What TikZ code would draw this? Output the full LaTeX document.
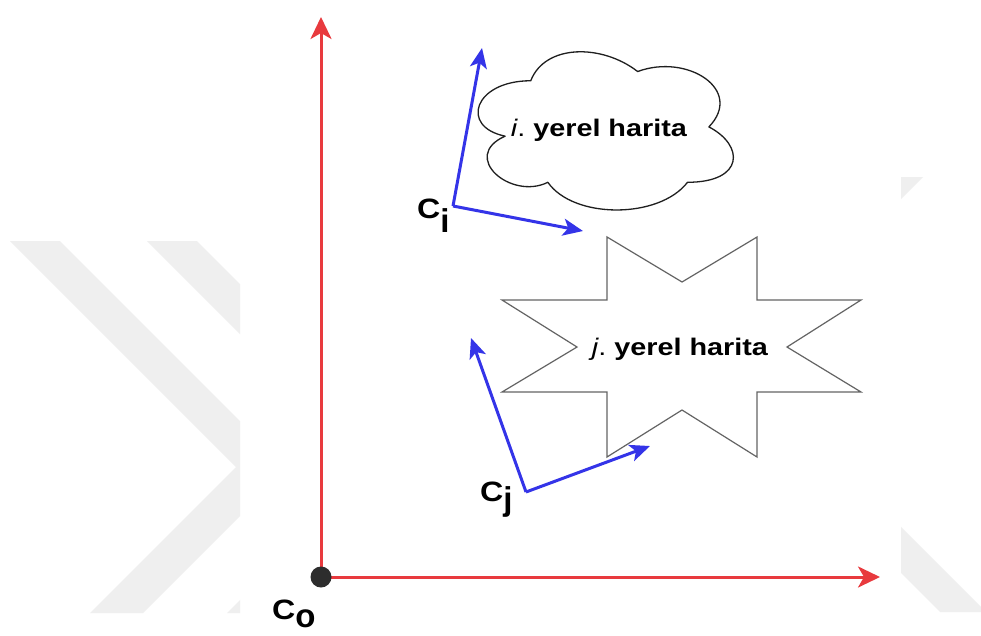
\documentclass[tikz,border=0pt]{standalone}
\usepackage{fontspec}
\setmainfont{Liberation Sans}
\usetikzlibrary{arrows.meta}
\definecolor{axisred}{RGB}{232,58,62}
\definecolor{vecblue}{RGB}{52,52,232}
\definecolor{wmgray}{RGB}{239,239,239}
\definecolor{stargray}{RGB}{100,100,100}
\definecolor{dotgray}{RGB}{45,45,45}
\tikzset{
  axis/.style={draw=axisred, line width=3pt, -{Stealth[length=22pt,width=21pt,inset=6pt]}},
  vec/.style={draw=vecblue, line width=3pt, -{Stealth[length=20pt,width=17pt,inset=5pt]}},
  maptext/.style={inner sep=0pt, anchor=base, font=\fontsize{24}{28}\selectfont},
  framelab/.style={inner sep=0pt, anchor=base west, font=\fontsize{28}{30}\selectfont\bfseries},
  cloudline/.style={draw=black!88, line width=1.3pt, line join=round},
  starline/.style={draw=stargray, line width=1.2pt, line join=miter},
}
\newcommand{\subfs}[1]{{\fontsize{33}{35}\selectfont #1}}
\begin{document}
\begin{tikzpicture}[x=1pt, y=-1pt]
\useasboundingbox (0,0) rectangle (981,635);
\fill[white] (0,0) rectangle (981,635);
% watermark (left)
\begin{scope}
  \clip (0,0) rectangle (240,635);
  \fill[wmgray] (10,241) -- (60,241) -- (287.5,468.5) -- (143,613) -- (90,613) -- (236,467) -- cycle;
  \fill[wmgray] (147,241) -- (197,241) -- (424.5,468.5) -- (280,613) -- (227,613) -- (373,467) -- cycle;
\end{scope}
% watermark (right)
\begin{scope}
  \clip (901,0) rectangle (981,635);
  \fill[wmgray] (873,177) -- (923,177) -- (737,363) -- (986,612) -- (940,612) -- (689,361) -- cycle;
\end{scope}

% cloud (i. local map)
\begin{scope}[shift={(459.5pt,-34.6pt)}, x=285pt, y=-184.6pt]
  \draw[cloudline, fill=white] (0.25,0.25)
    .. controls (0.05,0.25) and (0,0.5) .. (0.16,0.55)
    .. controls (0,0.66) and (0.18,0.9) .. (0.31,0.8)
    .. controls (0.4,1) and (0.7,1) .. (0.8,0.8)
    .. controls (1,0.8) and (1,0.6) .. (0.875,0.5)
    .. controls (1,0.3) and (0.8,0.1) .. (0.625,0.2)
    .. controls (0.5,0.05) and (0.3,0.05) .. (0.25,0.25) -- cycle;
\end{scope}
\node[maptext] (mapi) at (599,136) {\scalebox{1.2}[1]{\textit{i}.\ \textbf{yerel harita}}};

% star (j. local map)
\begin{scope}[shift={(682pt,-347pt)}]
  \draw[starline, fill=white] (-75,-110) -- (0,-65) -- (75,-110) -- (75,-47) -- (179,-47)
    -- (105,0) -- (179,45) -- (75,45) -- (75,110) -- (0,63) -- (-75,110) -- (-75,45)
    -- (-180,45) -- (-105,0) -- (-180,-47) -- (-75,-47) -- cycle;
\end{scope}
\node[maptext] (mapj) at (680,355) {\scalebox{1.2}[1]{\textit{j}.\ \textbf{yerel harita}}};

% global frame
\coordinate (O) at (321,577);
\coordinate (OY) at (321,17);
\coordinate (OX) at (880,577);
\draw[axis] (O) -- (OY);
\draw[axis] (O) -- (OX);
\fill[dotgray] (O) circle (10.5);

% frame i
\coordinate (Ci) at (453,206);
\coordinate (CiY) at (482,48);
\coordinate (CiX) at (583,231);
\draw[vec] (Ci) -- (CiY);
\draw[vec] (Ci) -- (CiX);

% frame j
\coordinate (Cj) at (526,492);
\coordinate (CjY) at (471,338);
\coordinate (CjX) at (650,446);
\draw[vec] (Cj) -- (CjY);
\draw[vec] (Cj) -- (CjX);

% labels
\node[framelab] (lo) at (272,619) {\scalebox{1.15}[1]{C}\raisebox{-8pt}{\subfs{o}}};
\node[framelab] (li) at (417,218) {\scalebox{1.15}[1]{C}\raisebox{-14pt}{\subfs{i}}};
\node[framelab] (lj) at (480,501) {\scalebox{1.15}[1]{C}\raisebox{-9pt}{\subfs{j}}};
\end{tikzpicture}
\end{document}
